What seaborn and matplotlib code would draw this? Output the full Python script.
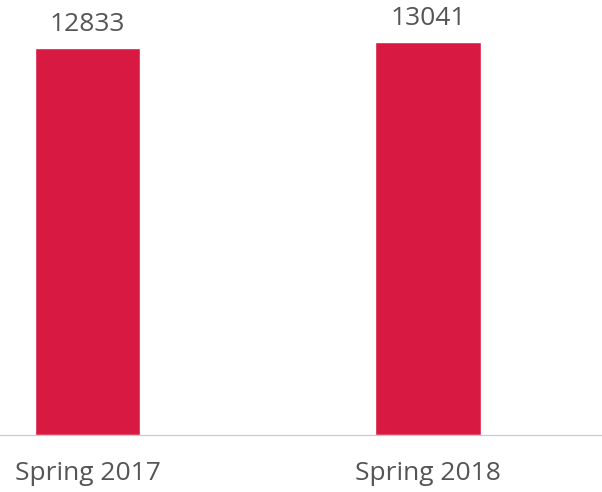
import matplotlib
matplotlib.use("Agg")
import matplotlib.pyplot as plt
import seaborn as sns
import pandas as pd

terms = ["Spring 2017", "Spring 2018"]
counts = [12833, 13041]

sns.set_style("white")
plt.rcParams['font.family'] = ['Open Sans', 'DejaVu Sans']

df = pd.DataFrame({"term": terms, "count": counts})

fig = plt.figure(figsize=(6.02, 4.92), dpi=100)
ax = fig.add_axes([0, 0.1159, 1, 0.8841])
sns.barplot(data=df, x="term", y="count", color="#d81a42", width=0.31,
            saturation=1, ax=ax)
ax.bar_label(ax.containers[0], labels=[str(c) for c in counts], padding=8,
             fontsize=19, color="#555555")

ax.set_xlim(-0.257, 1.511)
ax.set_ylim(0, 14425)
sns.despine(ax=ax, left=True, top=True, right=True)
ax.spines['bottom'].set_color("#c8c8c8")
ax.spines['bottom'].set_linewidth(0.8)
ax.set_yticks([])
ax.set_xlabel("")
ax.set_ylabel("")
ax.tick_params(axis='x', length=0, pad=19, labelsize=19, labelcolor="#555555")

fig.savefig("out.png", dpi=100)
